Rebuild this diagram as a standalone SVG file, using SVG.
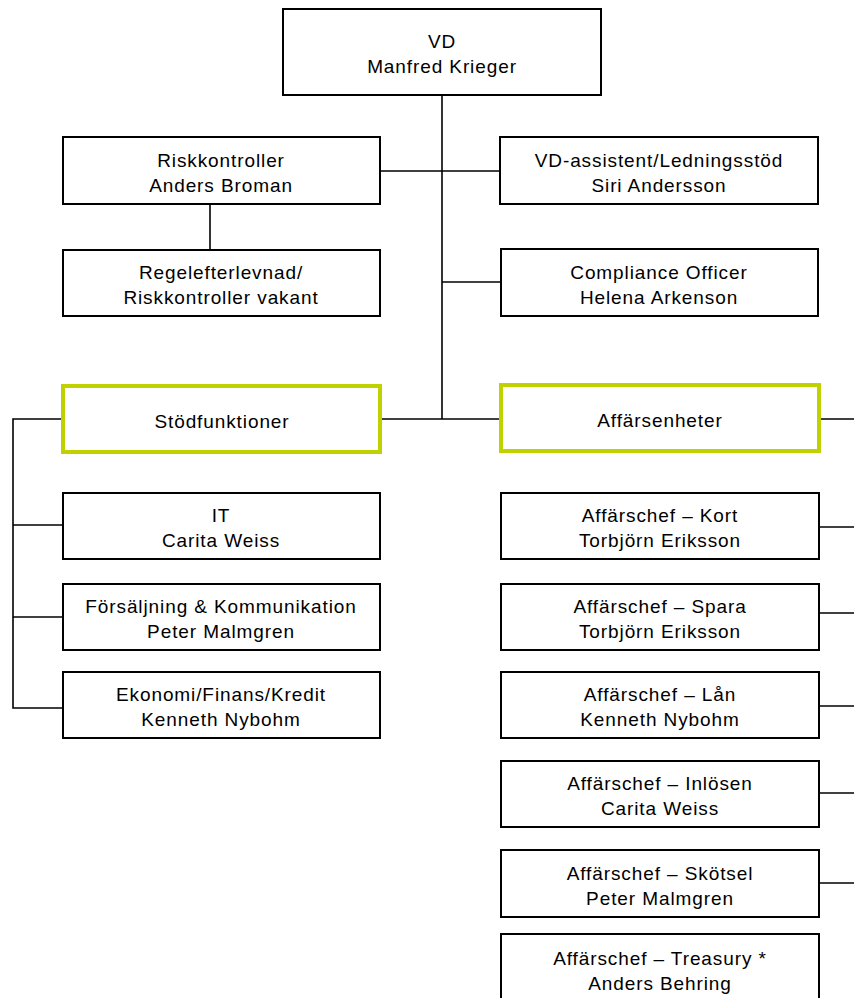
<svg xmlns="http://www.w3.org/2000/svg" width="854" height="998" viewBox="0 0 854 998">
<style>
.box{fill:#fff;stroke:#000;stroke-width:2}
.grn{fill:#fff;stroke:#BFD200;stroke-width:4}
.ln{stroke:#000;stroke-width:1.6;fill:none}
text{font-family:"Liberation Sans",Arial,sans-serif;font-size:19px;fill:#000;text-anchor:middle;letter-spacing:0.9px}
</style>
<rect width="854" height="998" fill="#fff"/>
<g id="connectors">
<path class="ln" d="M442 95V419"/>
<path class="ln" d="M380 171H500"/>
<path class="ln" d="M210 204V250"/>
<path class="ln" d="M442 282H501"/>
<path class="ln" d="M382 419H499"/>
<path class="ln" d="M821 419H854"/>
<path class="ln" d="M61 419H13V708H63"/>
<path class="ln" d="M13 525H63"/>
<path class="ln" d="M13 617H63"/>
<path class="ln" d="M819 527H854"/>
<path class="ln" d="M819 613H854"/>
<path class="ln" d="M819 706H854"/>
<path class="ln" d="M819 793H854"/>
<path class="ln" d="M819 883H854"/>
</g>
<g id="vd"><rect class="box" x="283" y="9" width="318" height="86"/><text x="442" y="48">VD</text><text x="442" y="73">Manfred Krieger</text></g>
<g id="risk"><rect class="box" x="63" y="137" width="317" height="67"/><text x="221" y="167">Riskkontroller</text><text x="221" y="192">Anders Broman</text></g>
<g id="regel"><rect class="box" x="63" y="250" width="317" height="66"/><text x="221" y="279">Regelefterlevnad/</text><text x="221" y="304">Riskkontroller vakant</text></g>
<g id="vdass"><rect class="box" x="500" y="137" width="318" height="67"/><text x="659" y="167">VD-assistent/Ledningsstöd</text><text x="659" y="192">Siri Andersson</text></g>
<g id="compliance"><rect class="box" x="501" y="249" width="317" height="67"/><text x="659" y="279">Compliance Officer</text><text x="659" y="304">Helena Arkenson</text></g>
<g id="stod"><rect class="grn" x="63" y="386" width="317" height="66"/><text x="222" y="428">Stödfunktioner</text></g>
<g id="affar"><rect class="grn" x="501" y="385" width="318" height="66"/><text x="660" y="427">Affärsenheter</text></g>
<g id="it"><rect class="box" x="63" y="493" width="317" height="66"/><text x="221" y="522">IT</text><text x="221" y="547">Carita Weiss</text></g>
<g id="forsaljning"><rect class="box" x="63" y="584" width="317" height="66"/><text x="221" y="613">Försäljning &amp; Kommunikation</text><text x="221" y="638">Peter Malmgren</text></g>
<g id="ekonomi"><rect class="box" x="63" y="672" width="317" height="66"/><text x="221" y="701">Ekonomi/Finans/Kredit</text><text x="221" y="726">Kenneth Nybohm</text></g>
<g id="kort"><rect class="box" x="501" y="493" width="318" height="66"/><text x="660" y="522">Affärschef – Kort</text><text x="660" y="547">Torbjörn Eriksson</text></g>
<g id="spara"><rect class="box" x="501" y="584" width="318" height="66"/><text x="660" y="613">Affärschef – Spara</text><text x="660" y="638">Torbjörn Eriksson</text></g>
<g id="lan"><rect class="box" x="501" y="672" width="318" height="66"/><text x="660" y="701">Affärschef – Lån</text><text x="660" y="726">Kenneth Nybohm</text></g>
<g id="inlosen"><rect class="box" x="501" y="761" width="318" height="66"/><text x="660" y="790">Affärschef – Inlösen</text><text x="660" y="815">Carita Weiss</text></g>
<g id="skotsel"><rect class="box" x="501" y="850" width="318" height="67"/><text x="660" y="880">Affärschef – Skötsel</text><text x="660" y="905">Peter Malmgren</text></g>
<g id="treasury"><rect class="box" x="501" y="934" width="318" height="67"/><text x="660" y="965">Affärschef – Treasury *</text><text x="660" y="990">Anders Behring</text></g>
</svg>
